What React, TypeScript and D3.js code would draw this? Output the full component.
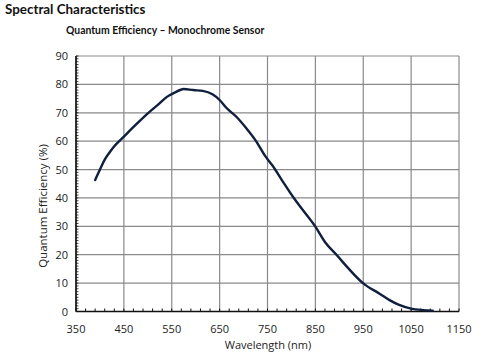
import React from "react";
import * as d3 from "d3";

const wavelengths = [390, 400, 410, 420, 430, 450, 475, 500, 525, 540, 555, 575, 595, 615, 635, 650, 665, 685, 705, 725, 745, 760, 780, 805, 825, 850, 870, 895, 920, 950, 985, 1005, 1025, 1050, 1075, 1095];
const efficiency = [46.3, 50, 53.5, 56, 58.2, 61.6, 65.8, 69.8, 73.4, 75.6, 77, 78.4, 78, 77.7, 76.5, 74.5, 71.6, 68.6, 64.7, 60.3, 54.8, 51.5, 46.3, 40, 35.5, 29.9, 24.5, 19.8, 15, 9.9, 6.2, 4, 2.3, 1, 0.5, 0.3];
const xTicks = [350, 450, 550, 650, 750, 850, 950, 1050, 1150];
const yTicks = [0, 10, 20, 30, 40, 50, 60, 70, 80, 90];

const W = 500;
const H = 354;
const left = 76;
const right = 459;
const top = 56;
const bottom = 311.5;

export default function App() {
  const x = d3.scaleLinear().domain([350, 1150]).range([left, right]);
  const y = d3.scaleLinear().domain([0, 90]).range([bottom, top]);
  const pts = wavelengths.map((w, i) => [w, efficiency[i]] as [number, number]);
  const line = d3
    .line<[number, number]>()
    .x((d) => x(d[0]))
    .y((d) => y(d[1]))
    .curve(d3.curveMonotoneX);
  const xMinor = d3.range(350, 1151, 20);
  const yMinor = d3.range(0, 91, 1);
  const font = "'Open Sans', 'DejaVu Sans', sans-serif";
  const titleFont = "Lato, 'Open Sans', sans-serif";
  return (
    <svg
      width={W}
      height={H}
      style={{ position: "absolute", left: 0, top: 0, background: "#fff" }}
      fontFamily={font}
    >
      <rect width={W} height={H} fill="#fff" />
      <text x={5} y={14} fontSize={13.4} fontWeight={700} fill="#111" fontFamily={titleFont}>
        Spectral Characteristics
      </text>
      <text x={66} y={34} fontSize={10.4} fontWeight={700} fill="#111" fontFamily={titleFont}>
        Quantum Efficiency – Monochrome Sensor
      </text>
      {yTicks.map((t) => (
        <line key={"gy" + t} x1={left} x2={right} y1={y(t)} y2={y(t)} stroke="#8a8a8a" strokeWidth={1.2} />
      ))}
      {xTicks.map((t) => (
        <line key={"gx" + t} x1={x(t)} x2={x(t)} y1={top} y2={bottom} stroke="#8a8a8a" strokeWidth={1.2} />
      ))}
      {xMinor.map((t) => (
        <line key={"mx" + t} x1={x(t)} x2={x(t)} y1={bottom} y2={bottom - 3} stroke="#111" strokeWidth={1} />
      ))}
      {yMinor.map((t) => (
        <line key={"my" + t} x1={left} x2={left + 2.5} y1={y(t)} y2={y(t)} stroke="#111" strokeWidth={0.8} />
      ))}
      <line x1={left} x2={left} y1={top} y2={bottom} stroke="#111" strokeWidth={1.6} />
      <line x1={left} x2={right} y1={bottom} y2={bottom} stroke="#111" strokeWidth={1.6} />
      {yTicks.map((t) => (
        <text key={"ly" + t} x={68} y={y(t) + 4} fontSize={11} textAnchor="end" fill="#222">
          {t}
        </text>
      ))}
      {xTicks.map((t) => (
        <text key={"lx" + t} x={x(t)} y={333} fontSize={11} textAnchor="middle" fill="#222">
          {t}
        </text>
      ))}
      <text x={268} y={349} fontSize={11} textAnchor="middle" fill="#222">
        Wavelength (nm)
      </text>
      <text
        transform={`translate(47, 206) rotate(-90)`}
        fontSize={11.5}
        textAnchor="middle"
        fill="#222"
      >
        Quantum Efficiency (%)
      </text>
      <path d={line(pts) || ""} fill="none" stroke="#0f1f3d" strokeWidth={2.4} strokeLinejoin="round" strokeLinecap="round" />
    </svg>
  );
}
